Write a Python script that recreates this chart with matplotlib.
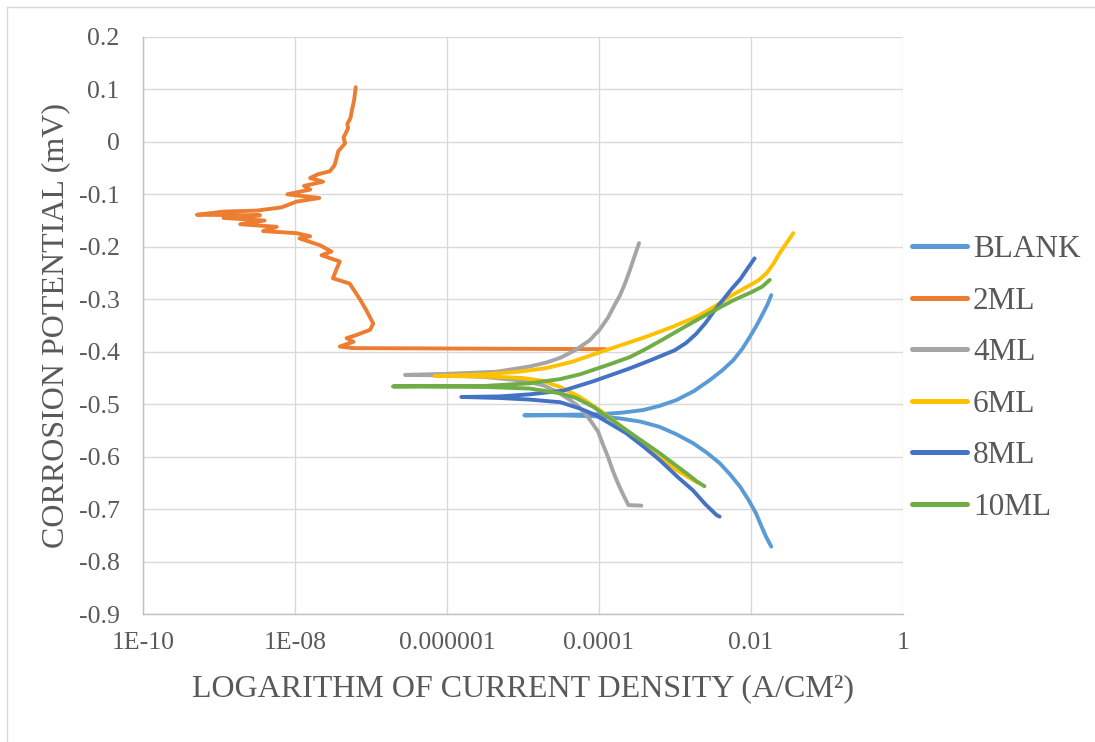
import numpy as np
import matplotlib
matplotlib.use("Agg")
import matplotlib.pyplot as plt
from matplotlib.lines import Line2D

# datos: log10(densidad de corriente) y potencial
series_names = ["BLANK", "2ML", "4ML", "6ML", "8ML", "10ML"]
series_colors = ["#5B9BD5", "#ED7D31", "#A5A5A5", "#FFC000", "#4472C4", "#70AD47"]

blank_logi = [-1.73, -1.80, -1.86, -1.93, -2.03, -2.14, -2.27, -2.41, -2.58, -2.76,
              -2.98, -3.20, -3.45, -3.72, -4.00, -4.50, -4.98,
              -4.50, -4.00, -3.70, -3.42, -3.20, -2.98, -2.75, -2.54, -2.38,
              -2.23, -2.11, -2.01, -1.92, -1.84, -1.78, -1.73]
blank_e = [-0.771, -0.752, -0.732, -0.708, -0.682, -0.657, -0.634, -0.612, -0.592, -0.574,
           -0.557, -0.543, -0.533, -0.527, -0.523, -0.521, -0.521,
           -0.520, -0.519, -0.516, -0.511, -0.503, -0.492, -0.475, -0.454, -0.436,
           -0.416, -0.394, -0.371, -0.349, -0.327, -0.310, -0.292]

ml2_logi = [-7.20, -7.22, -7.25, -7.27, -7.31, -7.30, -7.36, -7.34, -7.43, -7.46,
            -7.48, -7.54, -7.70, -7.80, -7.63, -7.88, -7.80, -8.10, -7.68, -7.98,
            -8.18, -8.50, -8.94, -9.29, -8.46, -8.94, -8.40, -8.72, -8.24, -8.42,
            -7.98, -7.80, -7.94, -7.67, -7.52, -7.65, -7.41, -7.46, -7.50, -7.28,
            -7.14, -7.06, -6.97, -7.01, -7.19, -7.32, -7.23, -7.41, -7.23, -3.91]
ml2_e = [0.104, 0.080, 0.060, 0.045, 0.034, 0.026, 0.008, -0.003, -0.018, -0.035,
         -0.045, -0.056, -0.062, -0.069, -0.076, -0.084, -0.091, -0.100, -0.107, -0.114,
         -0.125, -0.131, -0.133, -0.139, -0.140, -0.145, -0.150, -0.157, -0.162, -0.170,
         -0.174, -0.180, -0.184, -0.197, -0.209, -0.216, -0.228, -0.245, -0.260, -0.270,
         -0.301, -0.321, -0.346, -0.358, -0.368, -0.374, -0.381, -0.390, -0.393, -0.395]

ml4_logi = [-3.44, -3.61, -3.68, -3.75, -3.82, -3.88, -3.95, -4.01, -4.10, -4.20,
            -4.30, -4.40, -4.55, -4.73, -5.00, -5.50, -6.00, -6.55,
            -6.00, -5.35, -4.91, -4.68, -4.50, -4.30, -4.12, -3.99, -3.88, -3.80,
            -3.72, -3.65, -3.59, -3.53, -3.47]
ml4_e = [-0.693, -0.692, -0.672, -0.650, -0.625, -0.600, -0.575, -0.552, -0.533, -0.514,
         -0.500, -0.490, -0.476, -0.464, -0.455, -0.448, -0.445, -0.444,
         -0.442, -0.438, -0.428, -0.420, -0.411, -0.396, -0.378, -0.358, -0.335, -0.313,
         -0.292, -0.268, -0.244, -0.218, -0.193]

ml6_logi = [-2.68, -2.75, -2.98, -3.29, -3.64, -3.99, -4.25, -4.51, -4.75, -5.00,
            -5.50, -6.16,
            -5.50, -5.00, -4.69, -4.35, -4.03, -3.70, -3.37, -3.04, -2.71, -2.50,
            -2.28, -2.06, -1.90, -1.79, -1.70, -1.62, -1.53, -1.44]
ml6_e = [-0.650, -0.645, -0.625, -0.593, -0.549, -0.511, -0.486, -0.467, -0.455, -0.450,
         -0.447, -0.446,
         -0.443, -0.437, -0.431, -0.419, -0.403, -0.387, -0.371, -0.353, -0.333, -0.316,
         -0.295, -0.277, -0.264, -0.250, -0.232, -0.212, -0.193, -0.174]

ml8_logi = [-2.41, -2.45, -2.60, -2.76, -2.95, -3.20, -3.40, -3.64, -3.85, -4.05,
            -4.25, -4.51, -4.91, -5.30, -5.81,
            -5.30, -4.91, -4.47, -4.07, -3.60, -3.30, -3.00, -2.85, -2.72, -2.60,
            -2.48, -2.36, -2.25, -2.14, -2.05, -1.95]
ml8_e = [-0.714, -0.711, -0.690, -0.664, -0.640, -0.606, -0.582, -0.555, -0.537, -0.520,
         -0.508, -0.496, -0.491, -0.488, -0.486,
         -0.485, -0.481, -0.474, -0.456, -0.432, -0.415, -0.397, -0.383, -0.366, -0.346,
         -0.322, -0.300, -0.280, -0.262, -0.243, -0.222]

ml10_logi = [-2.61, -2.70, -2.85, -3.20, -3.64, -4.07, -4.30, -4.51, -4.91, -5.50,
             -6.71,
             -6.20, -5.50, -4.91, -4.51, -4.25, -3.86, -3.59, -3.40, -3.20, -2.90,
             -2.63, -2.40, -2.23, -2.00, -1.85, -1.75]
ml10_e = [-0.656, -0.648, -0.631, -0.593, -0.549, -0.505, -0.488, -0.479, -0.470, -0.467,
          -0.466,
          -0.465, -0.465, -0.460, -0.452, -0.443, -0.424, -0.410, -0.396, -0.380, -0.355,
          -0.333, -0.315, -0.302, -0.287, -0.276, -0.263]

x_ticks = [1e-10, 1e-8, 1e-6, 1e-4, 1e-2, 1]
x_tick_labels = ["1E-10", "1E-08", "0.000001", "0.0001", "0.01", "1"]
y_ticks = [0.2, 0.1, 0, -0.1, -0.2, -0.3, -0.4, -0.5, -0.6, -0.7, -0.8, -0.9]
y_tick_labels = ["0.2", "0.1", "0", "-0.1", "-0.2", "-0.3", "-0.4", "-0.5", "-0.6", "-0.7", "-0.8", "-0.9"]

all_logi = [blank_logi, ml2_logi, ml4_logi, ml6_logi, ml8_logi, ml10_logi]
all_e = [blank_e, ml2_e, ml4_e, ml6_e, ml8_e, ml10_e]

plt.rcParams["font.family"] = ["Liberation Serif", "DejaVu Serif"]
plt.rcParams["axes.unicode_minus"] = False
text_color = "#595959"

fig = plt.figure(figsize=(10.95, 7.42), dpi=100)
ax = fig.add_axes([143 / 1095, 1 - 614.3 / 742, (902.7 - 143) / 1095, (614.3 - 36.8) / 742])

for name, color, li, e in zip(series_names, series_colors, all_logi, all_e):
    ax.plot(np.power(10.0, li), e, color=color, lw=2.8, label=name,
            solid_capstyle="round", solid_joinstyle="round")

ax.set_xscale("log")
ax.set_xlim(1e-10, 1)
ax.set_ylim(-0.9, 0.2)
ax.set_xticks(x_ticks)
ax.set_xticklabels(x_tick_labels)
ax.xaxis.set_minor_locator(matplotlib.ticker.NullLocator())
ax.set_yticks(y_ticks)
ax.set_yticklabels(y_tick_labels)

ax.grid(True, color="#D9D9D9", lw=1.0)
ax.set_axisbelow(True)
for s in ["top", "right"]:
    ax.spines[s].set_visible(False)
for s in ["left", "bottom"]:
    ax.spines[s].set_color("#BFBFBF")
    ax.spines[s].set_linewidth(1.0)
ax.tick_params(length=0, labelsize=18.5, labelcolor=text_color)
ax.tick_params(axis="y", pad=17)
ax.tick_params(axis="x", pad=13)

ax.set_xlabel("LOGARITHM OF CURRENT DENSITY (A/CM²)", fontsize=23, color=text_color, labelpad=14)
ax.set_ylabel("CORROSION POTENTIAL (mV)", fontsize=23, color=text_color, labelpad=6)

handles = [Line2D([0], [0], color=c, lw=3.6, solid_capstyle="round") for c in series_colors]
fig.legend(handles, series_names, loc="center left", bbox_to_anchor=(912 / 1095, 1 - 378.5 / 742),
           frameon=False, fontsize=22.5, labelcolor=text_color, handlelength=1.75,
           handletextpad=0.2, labelspacing=0.72, borderpad=0, borderaxespad=0)

# borde del area del grafico
fig.add_artist(Line2D([7 / 1095, 7 / 1095], [0, 1 - 7 / 742], transform=fig.transFigure,
                      color="#D9D9D9", lw=1.0))
fig.add_artist(Line2D([7 / 1095, 1], [1 - 7 / 742, 1 - 7 / 742], transform=fig.transFigure,
                      color="#D9D9D9", lw=1.0))

plt.savefig("out.png", dpi=100)
